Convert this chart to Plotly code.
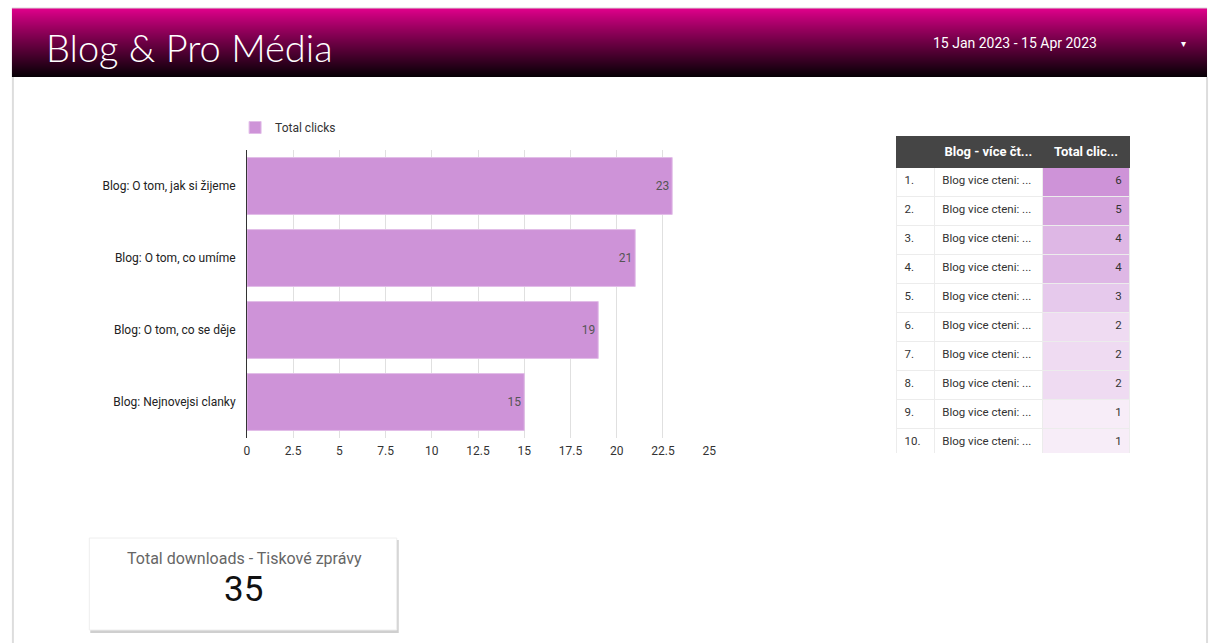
import plotly.graph_objects as go

W, H = 1218, 643

# ---- data ----
bar_categories = ["Blog: O tom, jak si žijeme", "Blog: O tom, co umíme",
                  "Blog: O tom, co se děje", "Blog: Nejnovejsi clanky"]
bar_values = [23, 21, 19, 15]
x_tick_vals = [0, 2.5, 5, 7.5, 10, 12.5, 15, 17.5, 20, 22.5, 25]
x_tick_text = ["0", "2.5", "5", "7.5", "10", "12.5", "15", "17.5", "20", "22.5", "25"]

table_header = ["", "Blog - více čt...", "Total clic..."]
table_rank = ["1.", "2.", "3.", "4.", "5.", "6.", "7.", "8.", "9.", "10."]
table_names = ["Blog vice cteni: ..."] * 10
table_clicks = [6, 5, 4, 4, 3, 2, 2, 2, 1, 1]

score_title = "Total downloads - Tiskové zprávy"
score_value = 35

page_title = "Blog & Pro Média"
date_range = "15 Jan 2023 - 15 Apr 2023"

BAR_COLOR = "#ce93d8"


def px(x):
    return x / W


def py(y):
    return 1 - y / H


fig = go.Figure()

# ---- bar chart ----
fig.add_trace(go.Bar(
    x=bar_values, y=bar_categories, orientation="h", name="Total clicks",
    marker=dict(color=BAR_COLOR, line=dict(color="#e2bde8", width=1)),
    text=bar_values, textposition="inside", insidetextanchor="end",
    textfont=dict(family="Roboto", size=12, color="#555555"),
    width=0.79, showlegend=True,
))

# ---- table ----
max_v = max(table_clicks)
base = (0xce, 0x93, 0xd8)


def heat(v):
    t = v / max_v
    r, g, b = [round(255 + (c - 255) * t) for c in base]
    return f"rgb({r},{g},{b})"


nb_names = [s.replace(" ", "\u00a0") for s in table_names]

fig.add_trace(go.Table(
    domain=dict(x=[px(901), px(1136)], y=[py(453), py(136)]),
    columnwidth=[38, 109, 88],
    header=dict(values=[f"<b>{h}</b>" for h in table_header],
                fill_color="#454545", line=dict(color="#454545", width=1),
                font=dict(family="Roboto", size=13, color="white"),
                align=["left", "center", "center"], height=26),
    cells=dict(values=[table_rank, nb_names, table_clicks],
               fill_color=[["white"] * 10, ["white"] * 10, [heat(v) for v in table_clicks]],
               line=dict(color="#ececec", width=1),
               font=dict(family="Roboto", size=11.5, color="#333333"),
               align=["left", "left", "right"], height=29),
))

shapes = []
# ---- header gradient (stripes) ----
top, bot = 8, 77
c0 = (226, 0, 140)
c1 = (8, 0, 6)
n = bot - top
for i in range(n):
    t = i / (n - 1)
    t2 = t ** 0.9
    r, g, b = [round(a + (bb - a) * t2) for a, bb in zip(c0, c1)]
    shapes.append(dict(type="rect", xref="paper", yref="paper",
                       x0=px(9), x1=px(1214), y0=py(top + i + 1.05), y1=py(top + i),
                       line=dict(width=0), fillcolor=f"rgb({r},{g},{b})", layer="below"))
# top line
shapes.append(dict(type="line", xref="paper", yref="paper", x0=px(9), x1=px(1214),
                   y0=py(8), y1=py(8), line=dict(color="#d8d8d8", width=1)))
# page frame
for xx in (10, 1214):
    shapes.append(dict(type="line", xref="paper", yref="paper", x0=px(xx), x1=px(xx),
                       y0=py(77), y1=0, line=dict(color="#dddddd", width=2)))
# scorecard shadow + card
shapes.append(dict(type="rect", xref="paper", yref="paper", x0=px(88), x1=px(399),
                   y0=py(633), y1=py(540), line=dict(width=0), fillcolor="#cfcfcf", layer="below"))
shapes.append(dict(type="rect", xref="paper", yref="paper", x0=px(87), x1=px(397),
                   y0=py(630), y1=py(538), line=dict(color="#eeeeee", width=1),
                   fillcolor="white", layer="below"))

annotations = [
    dict(text=page_title, x=px(41), y=py(47), xref="paper", yref="paper",
         xanchor="left", yanchor="middle", showarrow=False,
         font=dict(family="Lato", size=38, color="white", weight=300)),
    dict(text=date_range, x=px(936), y=py(43), xref="paper", yref="paper",
         xanchor="left", yanchor="middle", showarrow=False,
         font=dict(family="Roboto", size=14, color="white")),
    dict(text="▾", x=px(1190), y=py(43), xref="paper", yref="paper",
         xanchor="center", yanchor="middle", showarrow=False,
         font=dict(family="DejaVu Sans", size=10, color="white")),
    dict(text=score_title, x=px(243), y=py(558), xref="paper", yref="paper",
         xanchor="center", yanchor="middle", showarrow=False,
         font=dict(family="Roboto", size=16, color="#666666")),
    dict(text=str(score_value), x=px(242), y=py(589), xref="paper", yref="paper",
         xanchor="center", yanchor="middle", showarrow=False,
         font=dict(family="Roboto", size=35, color="#111111")),
]

fig.update_layout(
    width=W, height=H, margin=dict(l=0, r=0, t=0, b=0),
    paper_bgcolor="white", plot_bgcolor="white",
    font=dict(family="Roboto", size=11, color="#333333"),
    shapes=shapes, annotations=annotations,
    showlegend=True,
    legend=dict(x=px(234), y=py(113), xanchor="left", yanchor="top",
                orientation="h", font=dict(family="Roboto", size=12, color="#333333"),
                itemwidth=30, bgcolor="rgba(0,0,0,0)"),
    xaxis=dict(domain=[px(246), px(712)], range=[0, 25], tickvals=x_tick_vals,
               ticktext=x_tick_text, showgrid=True, gridcolor="#e0e0e0", gridwidth=1,
               zeroline=False, showline=False, ticks="", fixedrange=True,
               ticklabelstandoff=4,
               tickfont=dict(family="Roboto", size=12, color="#333333")),
    yaxis=dict(domain=[py(438), py(150)], autorange="reversed", showgrid=False,
               showline=True, linecolor="#333333", linewidth=1, ticks="",
               ticklabelstandoff=8,
               tickfont=dict(family="Roboto", size=12, color="#222222")),
    bargap=0.2,
)

fig.write_html("out.html", config=dict(displayModeBar=False),
               post_script="document.body.style.margin='0';document.body.style.overflow='hidden';")
